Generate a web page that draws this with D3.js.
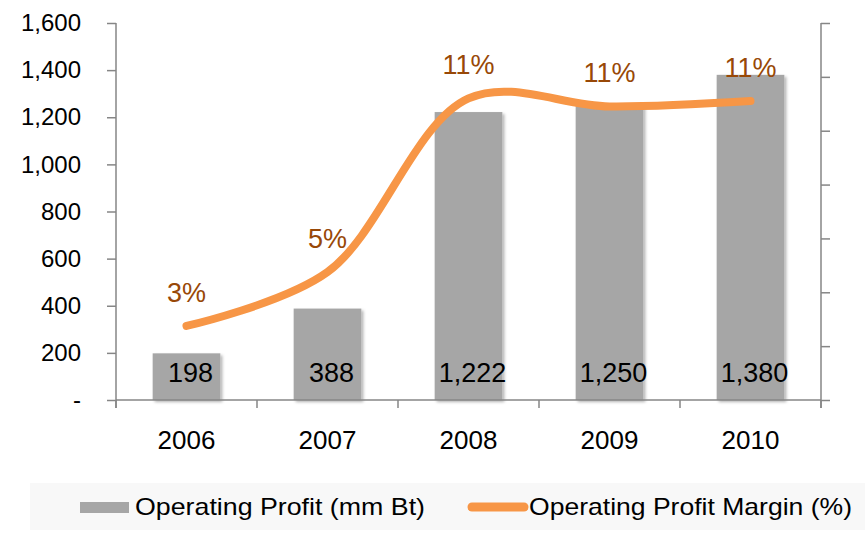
<!DOCTYPE html>
<html>
<head>
<meta charset="utf-8">
<script src="https://cdn.jsdelivr.net/npm/d3@7"></script>
<style>
  body { margin: 0; background: #fff; }
  svg { display: block; font-family: "Liberation Sans", Arial, sans-serif; }
</style>
</head>
<body>
<svg id="chart" width="865" height="534"></svg>
<script>
// chart data
var years = ["2006", "2007", "2008", "2009", "2010"];
var profit = [198, 388, 1222, 1250, 1380];          // mm Bt
var margin = [2.75, 4.75, 11.2, 10.9, 11.1];         // %
var marginLabels = ["3%", "5%", "11%", "11%", "11%"];
var leftTicks = [0, 200, 400, 600, 800, 1000, 1200, 1400, 1600];
var rightTicks = [0, 2, 4, 6, 8, 10, 12, 14];

var svg = d3.select("#chart");
var plotLeft = 116, plotRight = 821, plotTop = 23, plotBottom = 400;
var axisColor = "#868686";

var x = d3.scaleBand().domain(years).range([plotLeft, plotRight]).paddingInner(0.52).paddingOuter(0.26);
var y = d3.scaleLinear().domain([0, 1600]).range([plotBottom, plotTop]);
var y2 = d3.scaleLinear().domain([0, 14]).range([plotBottom, plotTop]);

// shadow under the bars
var defs = svg.append("defs");
var f = defs.append("filter").attr("id", "shadow").attr("x", "-20%").attr("y", "-20%").attr("width", "140%").attr("height", "140%");
f.append("feDropShadow").attr("dx", 2).attr("dy", 2).attr("stdDeviation", 1.8)
  .attr("flood-color", "#000").attr("flood-opacity", 0.3);

// bars
svg.selectAll("rect.bar")
  .data(profit)
  .enter()
  .append("rect")
  .attr("class", "bar")
  .attr("x", function (d, i) { return x(years[i]); })
  .attr("y", function (d) { return y(d); })
  .attr("width", x.bandwidth())
  .attr("height", function (d) { return plotBottom - y(d); })
  .attr("fill", "#A6A6A6")
  .attr("filter", "url(#shadow)");

// left axis
var yAxis = d3.axisLeft(y).tickValues(leftTicks).tickSize(9).tickPadding(26)
  .tickFormat(function (d) { return d === 0 ? "-" : d3.format(",")(d); });
var gy = svg.append("g").attr("transform", "translate(" + plotLeft + ",0)").call(yAxis);
gy.select(".domain").remove();
gy.append("line").attr("x1", 0).attr("x2", 0).attr("y1", plotTop).attr("y2", plotBottom + 8).attr("stroke", axisColor).attr("stroke-width", 1.5);
gy.selectAll(".tick line").attr("stroke", axisColor).attr("stroke-width", 1.5);
gy.selectAll(".tick text").attr("fill", "#000").style("font-size", "24px").style("font-family", "Liberation Sans, Arial, sans-serif");

// right axis (ticks only)
var y2Axis = d3.axisRight(y2).tickValues(rightTicks).tickSize(9).tickFormat("");
var gy2 = svg.append("g").attr("transform", "translate(" + plotRight + ",0)").call(y2Axis);
gy2.select(".domain").remove();
gy2.append("line").attr("x1", 0).attr("x2", 0).attr("y1", plotTop).attr("y2", plotBottom + 8).attr("stroke", axisColor).attr("stroke-width", 1.5);
gy2.selectAll(".tick line").attr("stroke", axisColor).attr("stroke-width", 1.5);

// bottom axis
var step = (plotRight - plotLeft) / years.length;
var gx = svg.append("g");
gx.append("line").attr("x1", plotLeft).attr("x2", plotRight).attr("y1", plotBottom).attr("y2", plotBottom)
  .attr("stroke", axisColor).attr("stroke-width", 1.5);
gx.selectAll("line.tick")
  .data(d3.range(years.length + 1))
  .enter()
  .append("line")
  .attr("class", "tick")
  .attr("x1", function (d) { return plotLeft + d * step; })
  .attr("x2", function (d) { return plotLeft + d * step; })
  .attr("y1", plotBottom).attr("y2", plotBottom + 8)
  .attr("stroke", axisColor).attr("stroke-width", 1.5);
gx.selectAll("text")
  .data(years)
  .enter()
  .append("text")
  .attr("x", function (d) { return x(d) + x.bandwidth() / 2; })
  .attr("y", 449)
  .attr("text-anchor", "middle")
  .style("font-size", "26px")
  .text(function (d) { return d; });

// bar value labels
svg.selectAll("text.val")
  .data(profit)
  .enter()
  .append("text")
  .attr("class", "val")
  .attr("x", function (d, i) { return x(years[i]) + x.bandwidth() / 2 + 4; })
  .attr("y", 382)
  .attr("text-anchor", "middle")
  .style("font-size", "27px")
  .text(function (d) { return d3.format(",")(d); });

// margin line
var pts = margin.map(function (d, i) { return [x(years[i]) + x.bandwidth() / 2, y2(d)]; });
var line = d3.line().curve(d3.curveCatmullRom.alpha(0.5));
svg.append("path")
  .attr("d", line(pts))
  .attr("fill", "none")
  .attr("stroke", "#F79646")
  .attr("stroke-width", 8)
  .attr("stroke-linecap", "round");

svg.selectAll("text.pct")
  .data(marginLabels)
  .enter()
  .append("text")
  .attr("class", "pct")
  .attr("x", function (d, i) { return pts[i][0]; })
  .attr("y", function (d, i) { return pts[i][1] - 24; })
  .attr("text-anchor", "middle")
  .attr("fill", "#984807")
  .style("font-size", "27px")
  .text(function (d) { return d; });

// legend
var lg = svg.append("g");
lg.append("rect").attr("x", 30).attr("y", 483).attr("width", 835).attr("height", 47).attr("fill", "#F8F8F8");
lg.append("rect").attr("x", 80).attr("y", 502).attr("width", 49).attr("height", 11).attr("fill", "#A6A6A6");
lg.append("text").attr("x", 135).attr("y", 515).style("font-size", "24px")
  .attr("textLength", 290).attr("lengthAdjust", "spacingAndGlyphs")
  .text("Operating Profit (mm Bt)");
lg.append("line").attr("x1", 472).attr("x2", 524).attr("y1", 507).attr("y2", 507)
  .attr("stroke", "#F79646").attr("stroke-width", 9).attr("stroke-linecap", "round");
lg.append("text").attr("x", 529).attr("y", 515).style("font-size", "24px")
  .attr("textLength", 323).attr("lengthAdjust", "spacingAndGlyphs")
  .text("Operating Profit Margin (%)");
</script>
</body>
</html>
